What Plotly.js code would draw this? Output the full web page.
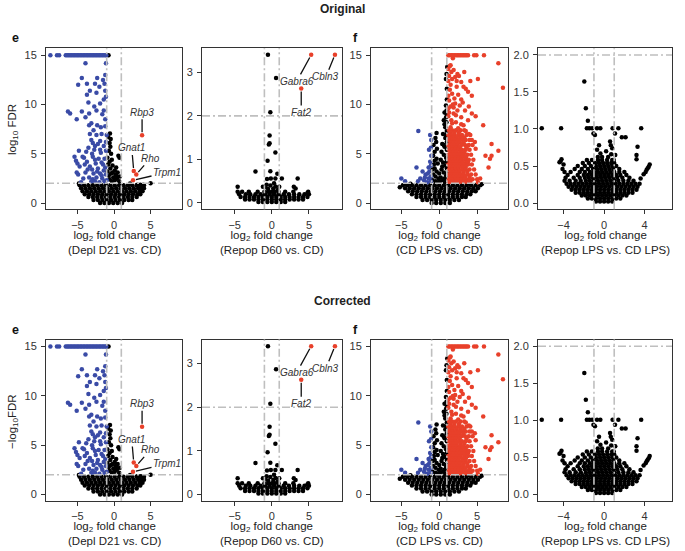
<!DOCTYPE html>
<html><head><meta charset="utf-8">
<script src="https://cdn.plot.ly/plotly-3.0.1.min.js"></script>
<style>html,body{margin:0;padding:0;background:#fff}#chart{width:685px;height:551px}</style>
</head><body><div id="chart"></div>
<script>
// ---------- DATA ----------
const comparisons = ['(Depl D21 vs. CD)', '(Repop D60 vs. CD)', '(CD LPS vs. CD)', '(Repop LPS vs. CD LPS)'];
const rowTitles = ['Original', 'Corrected'];
const yTitles = ['log<sub>10</sub> FDR', '\u2212log<sub>10</sub>FDR'];
const panelLetters = ['e', 'f'];

// Panel 1: Depl D21 vs CD  [log2FC, -log10 FDR]
const p1Down = [[-8.7,15],[-7.8,15],[-7.5,15],[-6.6,15],[-6.4,15],[-6.2,15],[-6.0,15],[-5.8,15],[-5.6,15],[-5.4,15],[-5.2,15],[-5.0,15],[-4.8,15],[-4.6,15],[-4.4,15],[-4.2,15],[-4.0,15],[-3.8,15],[-3.6,15],[-3.4,15],[-3.2,15],[-3.0,15],[-2.8,15],[-2.6,15],[-2.4,15],[-2.2,15],[-2.0,15],[-1.8,15],[-1.6,15],[-1.4,15],[-1.2,15],[-1.05,15],
 [-3.9,14.2],[-1.1,14.2],[-4.4,12.7],[-2.3,12.7],[-3.7,12.1],[-4.9,12.0],[-2.6,12.1],[-1.5,12.5],[-1.3,12.1],[-3.3,11.4],[-2.0,11.8],[-1.2,11.4],[-3.7,11.0],[-2.4,11.2],[-1.4,10.5],[-3.5,10.2],[-1.9,10.1],[-6.3,9.3],[-6.0,9.1],[-4.4,9.3],[-3.4,9.1],[-2.4,9.4],[-1.4,9.4],[-5.1,8.5],[-3.9,8.7],[-3.1,8.1],[-2.3,7.9],[-1.8,7.7],[-1.2,7.8],[-2.8,7.4],[-3.3,7.0],[-2.4,6.9],[-1.7,7.0],[-1.0,6.9],[-3.1,6.4],[-1.9,6.3],[-1.1,6.2],[-2.6,5.8],[-3.8,5.2],[-1.9,5.4],[-1.1,5.3],[-5.4,4.7],[-4.3,4.7],[-2.9,4.7],[-2.1,4.5],[-1.3,4.5],[-5.2,4.3],[-3.7,4.2],[-2.5,4.0],[-1.7,4.1],[-4.7,3.7],[-3.3,3.7],[-2.2,3.5],[-1.2,3.6],[-5.1,3.1],[-4.9,2.9],[-3.9,3.1],[-2.8,3.0],[-1.9,3.0],[-1.1,2.9],[-3.4,2.6],[-2.4,2.6],[-1.6,2.5],[-4.5,2.1],[-3.1,2.2],[-2.0,2.1],[-1.0,2.3],
 [-4.8,5.3],[-3.0,5.0],[-2.2,6.0],[-1.4,5.8],[-3.6,3.4],[-2.6,4.4],[-1.5,3.9],[-4.2,2.5],[-2.9,2.4],[-1.3,2.2],[-5.0,4.0],[-3.4,7.9],[-2.7,9.8],[-1.6,9.0],[-1.2,8.5],[-1.1,10.8],[-1.2,13.0],[-2.9,6.1],[-3.5,5.6],[-2.3,3.2],[-1.4,3.3],[-1.8,5.1],[-2.7,5.4],[-4.0,3.9],[-3.0,3.4],[-1.7,2.8],[-2.6,2.2],[-4.1,4.6]];
const p1Ns = [[-0.75,15],[-0.55,7.05],[-0.45,6.5],[-0.6,6.1],[-0.5,5.7],[-0.7,5.3],[-0.4,5.0],[0.6,4.8],[0.75,4.6],[-0.3,4.4],[-0.6,4.2],[-0.8,3.9],[-0.2,3.8],[0.3,3.6],[-0.5,3.5],[0.1,3.3],[-0.9,3.2],[0.5,3.1],[-0.4,3.0],[0.2,2.9],[-0.7,2.8],[0.8,2.7],[-0.1,2.6],[0.4,2.5],[-0.6,2.4],[0.1,2.3],[0.7,2.2],[-0.3,2.2],[-0.8,6.7],[-0.9,4.6],[-0.2,3.1],[0.3,2.8],[5.0,2.0],[3.2,1.85],[3.6,1.85],[4.0,1.85],[-4.8,1.98],[2.2,1.98]];
const p1CloudY = [0.0, 0.3, 0.6, 0.9, 1.2, 1.5, 1.8];
const p1CloudX = [
 [-1.9,-1.3,-0.7,-0.1,0.5,1.1],
 [-2.8,-2.2,-1.6,-1.0,-0.4,0.2,0.8,1.4,2.0,2.5],
 [-3.5,-2.9,-2.3,-1.7,-1.1,-0.5,0.1,0.7,1.3,1.9,2.5,3.1],
 [-4.0,-3.4,-2.8,-2.2,-1.6,-1.0,-0.4,0.2,0.8,1.4,2.0,2.6,3.2,3.6],
 [-4.3,-3.7,-3.1,-2.5,-1.9,-1.3,-0.7,-0.1,0.5,1.1,1.7,2.3,2.9,3.5,3.9],
 [-4.5,-3.9,-3.3,-2.7,-2.1,-1.5,-0.9,-0.3,0.3,0.9,1.5,2.1,2.7,3.3,3.8,4.1],
 [-4.7,-4.1,-3.5,-2.9,-2.3,-1.7,-1.1,-0.5,0.1,0.7,1.3,1.9,2.5,3.1,3.7,4.1]];
const p1Up = [[3.84,6.87],[2.7,3.25],[3.05,2.9],[2.6,2.3]];
const p1Genes = ['Rbp3','Gnat1','Rho','Trpm1'];

// Panel 2: Repop D60 vs CD
const p2Down = [];
const p2Ns = [[-0.52,3.40],[0.57,2.87],[-0.2,2.08],[-0.3,1.55],[-0.3,1.37],[-0.4,1.34],[0.48,1.16],[-0.57,0.97],[-2.2,0.72],[-0.2,0.73],[0.74,0.67],[-0.65,0.55],[-0.13,0.56],[0.48,0.56],[1.35,0.56],[3.48,0.56],[-4.6,0.37],[2.96,0.37],[3.2,0.33],[4.8,0.23],[-4.6,0.26],[-0.9,0.36],[-0.5,0.32],[0.2,0.33],[0.8,0.3],[0.5,0.38],[-0.2,0.4],[-1.2,0.37],[1.0,0.37],[-0.7,0.42],[0.3,0.45]];
const p2CloudY = [0.02, 0.08, 0.14, 0.20, 0.26];
const p2CloudX = [
 [-1.8,-1.2,-0.6,0,0.6,1.2,1.8],
 [-3.6,-3.0,-2.4,-1.8,-1.2,-0.6,0,0.6,1.2,1.8,2.4,3.0,3.6,4.2],
 [-4.2,-3.6,-3.0,-2.4,-1.8,-1.2,-0.6,0,0.6,1.2,1.8,2.4,3.0,3.6,4.2,4.8],
 [-4.4,-3.5,-2.9,-2.2,-1.5,-0.9,-0.3,0.3,0.9,1.6,2.3,3.0,3.7,4.4,5.0],
 [-4.0,-3.1,-1.9,-1.0,-0.5,0,0.4,0.9,1.8,2.9,4.9]];
const p2Up = [[5.3,3.40],[8.5,3.40],[3.96,2.63]];
const p2Genes = ['Gabra6','Cbln3','Fat2'];

// Panel 3: CD LPS vs CD
const p3Down = [[-2.76,7.3],[-1.2,6.9],[-1.05,6.4],[-1.1,5.6],[-1.35,5.4],[-1.05,4.8],[-3.0,3.6],[-1.4,3.6],[-2.2,3.2],[-1.8,2.9],[-1.3,3.2],[-5.0,2.5],[-4.5,2.2],[-2.5,2.5],[-1.9,2.6],[-1.4,2.5],[-1.6,2.1],[-1.1,2.2],[-2.8,2.2],[-1.2,4.2],[-1.1,3.8],[-2.0,2.3],[-1.5,3.0],[-1.1,2.7]];
const p3Ns = [[1.05,13.8],[0.96,13.1],[0.88,12.6],[1.0,11.6],[1.0,10.5],[0.88,9.9],[0.96,9.4],[1.0,9.0],[0.9,8.7],[0.6,8.4],[0.7,8.0],[0.8,7.7],[1.0,7.3],[0.5,7.0],[0.8,6.6],[1.0,6.2],[0.4,6.0],[0.7,5.7],[1.0,5.4],[0.3,5.2],[0.6,4.9],[0.9,4.6],[0.2,4.4],[0.5,4.1],[0.8,3.8],[1.0,3.5],[0.3,3.4],[0.6,3.1],[0.9,2.8],[0.2,2.6],[0.5,2.3],[0.8,2.1],[0.95,8.2],[0.7,9.2],[1.0,4.2],[0.6,5.9],[0.9,6.9],[0.4,3.7],[0.7,2.5],[1.0,3.0],
 [-0.35,7.1],[-0.5,6.6],[-0.75,5.9],[-0.4,6.2],[-0.6,5.2],[-0.3,5.5],[-0.35,4.5],[-0.8,4.8],[-0.7,3.9],[-0.2,4.0],[-0.35,3.2],[-0.6,3.5],[-0.8,2.9],[-0.1,2.5],[-0.5,2.7],[-0.9,2.3],[-0.3,2.1],[0.0,3.0],[0.1,2.2],[-0.6,4.3],[-0.9,3.4],[-0.5,2.2],
 [5.6,1.9],[-5.2,1.6],[-3.8,1.95],[4.0,1.95],[-4.5,1.95]];
const p3CloudY = [0.0, 0.3, 0.6, 0.9, 1.2, 1.5, 1.8];
const p3CloudX = [
 [-1.0,-0.4,0.2,0.8,1.4],
 [-2.2,-1.6,-1.0,-0.4,0.2,0.8,1.4,2.0,2.6],
 [-3.0,-2.4,-1.8,-1.2,-0.6,0,0.6,1.2,1.8,2.4,3.0,3.5],
 [-3.6,-3.0,-2.4,-1.8,-1.2,-0.6,0,0.6,1.2,1.8,2.4,3.0,3.6,4.1],
 [-4.1,-3.5,-2.9,-2.3,-1.7,-1.1,-0.5,0.1,0.7,1.3,1.9,2.5,3.1,3.7,4.3,4.8],
 [-4.5,-3.9,-3.3,-2.7,-2.1,-1.5,-0.9,-0.3,0.3,0.9,1.5,2.1,2.7,3.3,3.9,4.5,5.1],
 [-4.8,-4.2,-3.6,-3.0,-2.4,-1.8,-1.2,-0.6,0,0.6,1.2,1.8,2.4,3.0,3.6,4.2,4.8,5.4]];
const p3Up = [[1.2,15],[1.4,15],[1.6,15],[1.8,15],[2.0,15],[2.2,15],[2.4,15],[2.6,15],[2.8,15],[3.0,15],[3.2,15],[3.4,15],[3.6,15],[3.8,15],[4.6,15],[4.9,15],[5.9,15],
 [1.8,14.7],[7.8,14.2],[8.4,11.7],[1.5,14.0],[1.6,13.3],[2.4,13.1],[3.3,13.3],[5.1,12.6],[4.1,12.4],[1.7,12.6],[2.1,12.8],[2.6,12.9],[2.9,12.3],[1.5,12.0],[2.3,11.8],[3.2,11.8],[3.5,11.6],[4.3,10.9],[1.7,11.1],[2.5,11.0],[2.0,10.6],[2.9,10.5],[2.1,10.1],[1.5,9.8],[3.4,9.4],[2.4,9.4],[4.3,9.1],[4.8,8.8],[1.9,9.1],[2.9,8.7],[3.8,8.4],[1.6,8.4],[2.2,8.2],[3.2,7.9],[5.8,7.9],[2.5,7.6],[1.5,7.7],
 [6.9,6.0],[7.8,5.3],[6.1,4.8],[6.9,4.8],[6.7,4.5],[6.5,3.6],[5.4,2.5],[5.1,2.1],[4.7,6.2],[4.3,6.4],[4.8,5.5],[3.8,4.2],
 [1.2,13.6],[1.3,12.9],[1.2,12.4],[1.4,11.5],[1.2,10.9],[1.3,10.4],[1.8,10.0],[1.2,9.6],[1.9,9.7],[1.3,9.2],[2.2,8.9],[1.2,8.8],[1.7,8.1],[2.9,8.0],[3.5,7.3],[3.9,7.0],[1.4,13.9],[1.9,13.5],[2.3,12.4],[3.8,11.3],[3.1,10.2],[3.9,9.8],[2.7,9.9]];
const p3UpRowY = [7.4, 7.15, 6.9, 6.65, 6.4, 6.15, 5.9, 5.65, 5.4, 5.15, 4.9, 4.65, 4.4, 4.15, 3.9, 3.65, 3.4, 3.15, 2.9, 2.65, 2.4, 2.15];
const p3UpRowX = [
 [1.3,1.7,2.2,2.8,3.3],
 [1.5,2.0,2.6],
 [1.2,1.6,2.0,2.5,3.0,3.6,4.1],
 [1.4,1.8,2.3,2.8,3.3],
 [1.3,1.7,2.1,2.6,3.1,3.5,4.0],
 [1.5,1.9,2.3,2.7,3.2],
 [1.2,1.6,2.0,2.4,2.9,3.4,3.9,4.4],
 [1.4,1.8,2.2,2.7,3.6],
 [1.3,1.7,2.1,2.5,3.0,3.5,4.0],
 [1.5,1.9,2.3,2.8,3.3],
 [1.2,1.6,2.0,2.4,2.8,3.2,3.7,4.2],
 [1.4,1.8,2.2,2.6,3.0,3.5],
 [1.3,1.7,2.1,2.5,2.9,3.4,3.9,4.5],
 [1.5,1.9,2.3,2.7,3.1,3.6],
 [1.2,1.6,2.0,2.4,2.8,3.3,3.8,4.3],
 [1.4,1.8,2.2,2.6,3.1,3.5],
 [1.3,1.7,2.1,2.5,3.0,3.5,4.0,4.6],
 [1.5,1.9,2.3,2.7,3.2,3.7],
 [1.2,1.6,2.0,2.4,2.8,3.2,3.7,4.2,4.8],
 [1.4,1.8,2.2,2.6,3.0,3.4,4.0],
 [1.3,1.7,2.1,2.5,2.9,3.4,3.9,4.4,5.0],
 [1.2,1.5,1.9,2.3,2.7,3.1,3.6,4.1]];

// Panel 4: Repop LPS vs CD LPS
const p4Down = [];
const p4Up = [];
const p4Ns = [[-1.95,1.64],[-1.8,1.28],[-1.6,1.11],[-6.15,1.01],[-4.24,1.01],[-1.7,1.01],[-1.45,1.01],[-1.18,1.01],[-0.7,1.01],[-0.37,1.01],[0.84,1.01],[1.41,1.01],[3.66,1.01],[-1.05,0.94],[-0.9,0.92],[1.08,0.94],[1.75,0.89],[2.12,0.89],[0.59,0.83],[0.66,0.78],[0.8,0.74],[-0.69,0.72],[-0.36,0.67],[-0.62,0.62],[1.1,0.65],[0.95,0.58],[3.3,0.76],[3.2,0.65],[3.2,0.59],[-4.2,0.59],[-4.3,0.56],[-4.0,0.52],[4.4,0.49],[4.2,0.45],[3.9,0.39],[3.6,0.33],[4.5,0.52],[4.3,0.47],[4.1,0.42],[-4.4,0.55],[-4.1,0.46],[-3.9,0.42],[-0.5,0.78],[0.2,0.7],[0.7,0.66],[-0.2,0.62],[0.4,0.62]];
const p4CloudY = [0.02,0.06,0.10,0.14,0.18,0.22,0.26,0.30,0.34,0.38,0.42,0.46,0.50,0.54,0.58];
const p4CloudX = [
 [-0.8,-0.4,0,0.4,0.8],
 [-1.6,-1.2,-0.8,-0.4,0,0.4,0.8,1.2,1.6],
 [-2.2,-1.8,-1.4,-1.0,-0.6,-0.2,0.2,0.6,1.0,1.4,1.8,2.2],
 [-2.8,-2.4,-2.0,-1.6,-1.2,-0.8,-0.4,0,0.4,0.8,1.2,1.6,2.0,2.4,2.8],
 [-3.2,-2.8,-2.4,-2.0,-1.6,-1.2,-0.8,-0.4,0,0.4,0.8,1.2,1.6,2.0,2.4,2.8,3.2],
 [-3.5,-3.1,-2.7,-2.3,-1.9,-1.5,-1.1,-0.7,-0.3,0.1,0.5,0.9,1.3,1.7,2.1,2.5,2.9,3.3],
 [-3.7,-3.3,-2.9,-2.5,-2.1,-1.7,-1.3,-0.9,-0.5,-0.1,0.3,0.7,1.1,1.5,1.9,2.3,2.7,3.1,3.5],
 [-3.9,-3.4,-2.8,-2.3,-1.8,-1.4,-1.0,-0.6,-0.2,0.2,0.6,1.0,1.4,1.9,2.4,2.9],
 [-3.8,-3.0,-2.4,-1.9,-1.5,-1.1,-0.7,-0.3,0.1,0.5,0.9,1.3,1.8,2.5],
 [-3.6,-2.6,-2.0,-1.6,-1.2,-0.8,-0.4,0,0.4,0.8,1.2,1.6,2.2],
 [-3.3,-2.4,-1.9,-1.4,-1.0,-0.6,-0.2,0.2,0.6,1.0,1.5,2.0],
 [-2.9,-2.2,-1.6,-1.1,-0.7,-0.3,0.1,0.5,0.9,1.5],
 [-2.6,-1.9,-1.3,-0.8,-0.4,0.0,0.4,0.8,1.2],
 [-2.1,-1.5,-0.9,-0.5,-0.1,0.3,0.7,1.0],
 [-1.7,-1.2,-0.6,-0.2,0.3,0.8]];

const fcCut = [-1, 1];
const fdrCut = 2;

// ---------- BUILD ----------
const FONT = 'Liberation Sans, Arial, Helvetica, sans-serif';
const C_NS = '#000000', C_DOWN = '#3a4ba6', C_UP = '#e8402a';

function fromPairs(p) { return {x: p.map(d => d[0]), y: p.map(d => d[1])}; }
function fromRows(ry, rx) { const x = [], y = []; ry.forEach((v, i) => rx[i].forEach(u => { x.push(u); y.push(v); })); return {x, y}; }
function join(a, b) { return {x: a.x.concat(b.x), y: a.y.concat(b.y)}; }

const panelData = [
 {ns: join(fromRows(p1CloudY, p1CloudX), fromPairs(p1Ns)), down: fromPairs(p1Down), up: fromPairs(p1Up), genes: p1Genes,
  xr: [-9.3, 9.3], yr: [-0.64, 15.71], xt: [-5, 0, 5], yt: [0, 5, 10, 15], yf: ''},
 {ns: join(fromRows(p2CloudY, p2CloudX), fromPairs(p2Ns)), down: fromPairs(p2Down), up: fromPairs(p2Up), genes: p2Genes,
  xr: [-9.4, 9.45], yr: [-0.145, 3.55], xt: [-5, 0, 5], yt: [0, 1, 2, 3], yf: ''},
 {ns: join(fromRows(p3CloudY, p3CloudX), fromPairs(p3Ns)), down: fromPairs(p3Down), up: join(fromRows(p3UpRowY, p3UpRowX), fromPairs(p3Up)), genes: [],
  xr: [-9.0, 9.07], yr: [-0.64, 15.71], xt: [-5, 0, 5], yt: [0, 5, 10, 15], yf: ''},
 {ns: join(fromRows(p4CloudY, p4CloudX), fromPairs(p4Ns)), down: fromPairs(p4Down), up: fromPairs(p4Up), genes: [],
  xr: [-6.52, 6.7], yr: [-0.085, 2.09], xt: [-4, 0, 4], yt: [0, 0.5, 1, 1.5, 2], yf: '.1f'}
];

const xDom = [[46, 182], [202, 342], [371, 508], [538, 672]];
const yDomPx = [[48.3, 209.3], [339.6, 500.8]];
const W = 685, H = 551;
const geneOffsets = {Rbp3: [0, -23], Gnat1: [-2, -23], Rho: [14, -16], Trpm1: [34, -8], Gabra6: [-14.5, 26.5], Cbln3: [-9, 22], Fat2: [0, 24]};

const traces = [];
const layout = {
  width: W, height: H, margin: {l: 0, r: 0, t: 0, b: 0},
  paper_bgcolor: '#fff', plot_bgcolor: '#fff', showlegend: false,
  font: {family: FONT, size: 11, color: '#222'},
  shapes: [], annotations: []
};

for (let row = 0; row < 2; row++) {
  for (let c = 0; c < 4; c++) {
    const k = row * 4 + c + 1;
    const s = k === 1 ? '' : String(k);
    const d = panelData[c];
    const mk = (pts, col) => ({type: 'scatter', mode: 'markers', x: pts.x, y: pts.y, xaxis: 'x' + s, yaxis: 'y' + s,
      marker: {size: 4.5, color: col, line: {width: 0}}, hoverinfo: 'skip', cliponaxis: true});
    traces.push(mk(d.ns, C_NS));
    if (d.down.x.length) traces.push(mk(d.down, C_DOWN));
    if (d.up.x.length) traces.push(mk(d.up, C_UP));

    const yd = yDomPx[row];
    const axCommon = {showline: true, linecolor: '#333', linewidth: 1, mirror: true, ticks: 'outside', ticklen: 4,
      tickwidth: 1, tickcolor: '#333', showgrid: false, zeroline: false, fixedrange: true,
      tickfont: {family: FONT, size: 11, color: '#333'}};
    layout['xaxis' + s] = Object.assign({}, axCommon, {domain: [xDom[c][0] / W, xDom[c][1] / W], anchor: 'y' + s,
      range: d.xr, tickmode: 'array', tickvals: d.xt, ticklabelstandoff: 1});
    layout['yaxis' + s] = Object.assign({}, axCommon, {domain: [1 - yd[1] / H, 1 - yd[0] / H], anchor: 'x' + s,
      range: d.yr, tickmode: 'array', tickvals: d.yt, tickformat: d.yf, ticklabelstandoff: 2});

    const ln = {color: '#bfbfbf', width: 1.6, dash: '8px,3px,2px,3px'};
    fcCut.forEach(v => layout.shapes.push({type: 'line', xref: 'x' + s, yref: 'y' + s + ' domain', x0: v, x1: v, y0: 0, y1: 1, line: ln, layer: 'above'}));
    layout.shapes.push({type: 'line', xref: 'x' + s + ' domain', yref: 'y' + s, x0: 0, x1: 1, y0: fdrCut, y1: fdrCut, line: ln, layer: 'above'});

    // x title
    const cx = (xDom[c][0] + xDom[c][1]) / 2 / W;
    layout.annotations.push({xref: 'paper', yref: 'paper', x: cx, y: 1 - (yd[1] + 33) / H, xanchor: 'center', yanchor: 'middle',
      showarrow: false, text: 'log<sub>2</sub> fold change<br>' + comparisons[c], font: {family: FONT, size: 11.5, color: '#222'}});

    // gene labels
    d.genes.forEach((g, i) => {
      const o = geneOffsets[g];
      layout.annotations.push({xref: 'x' + s, yref: 'y' + s, x: d.up.x[i], y: d.up.y[i], text: '<i>' + g + '</i>',
        showarrow: true, arrowhead: 0, arrowwidth: 1.3, arrowcolor: '#111', ax: o[0], ay: o[1], standoff: 3,
        font: {family: FONT, size: 10, color: '#333'}});
    });
  }
  const off = row === 0 ? 0 : 291.5;
  layout.annotations.push({xref: 'paper', yref: 'paper', x: 342 / W, y: 1 - (9 + off) / H, xanchor: 'center', yanchor: 'middle',
    showarrow: false, text: '<b>' + rowTitles[row] + '</b>', font: {family: FONT, size: 12, color: '#222'}});
  layout.annotations.push({xref: 'paper', yref: 'paper', x: 15 / W, y: 1 - (38 + off) / H, xanchor: 'center', yanchor: 'middle',
    showarrow: false, text: '<b>' + panelLetters[0] + '</b>', font: {family: FONT, size: 12.5, color: '#111'}});
  layout.annotations.push({xref: 'paper', yref: 'paper', x: 355 / W, y: 1 - (38 + off) / H, xanchor: 'center', yanchor: 'middle',
    showarrow: false, text: '<b>' + panelLetters[1] + '</b>', font: {family: FONT, size: 12.5, color: '#111'}});
  layout.annotations.push({xref: 'paper', yref: 'paper', x: 13 / W, y: 1 - (row === 0 ? 130 : 422) / H, xanchor: 'center', yanchor: 'middle',
    textangle: -90, showarrow: false, text: yTitles[row], font: {family: FONT, size: 11.5, color: '#222'}});
}

Plotly.newPlot('chart', traces, layout, {staticPlot: true, displayModeBar: false});
</script></body></html>
